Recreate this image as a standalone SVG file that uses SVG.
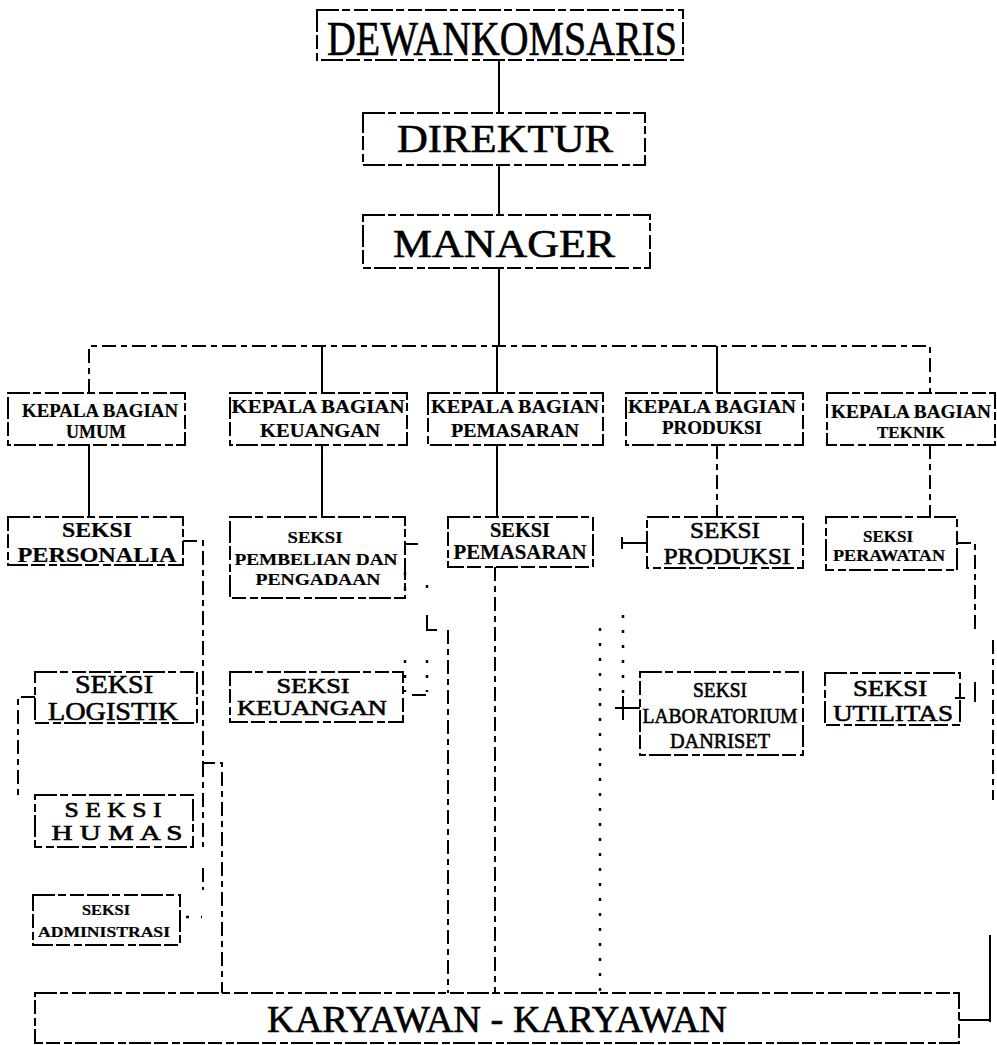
<svg xmlns="http://www.w3.org/2000/svg" width="997" height="1045" viewBox="0 0 997 1045">
<style>
.bx{fill:none;stroke:#000;stroke-width:2;stroke-dasharray:22 3 8 4 14 3}
.s{fill:none;stroke:#000;stroke-width:2}
.d{fill:none;stroke:#000;stroke-width:2;stroke-dasharray:14 5 6 5}
.t{fill:none;stroke:#000;stroke-width:2.5;stroke-dasharray:3 12}
text{font-family:"Liberation Serif","Times New Roman",serif;fill:#000;text-anchor:middle;stroke:#000;stroke-width:0.6}
.b{font-weight:bold;stroke-width:0.2}
</style>
<rect width="997" height="1045" fill="#fff"/>
<g id="connectors">
<path class="s" d="M499 60V113M499 165V215M499 268V346"/>
<path class="d" d="M89 393V346H930V393"/>
<path class="s" d="M322 346V393M497 346V393M717 346V393"/>
<path class="s" d="M89 445V517M322 445V517M497 445V517"/>
<path class="d" d="M717 445V517M930 445V517"/>
<path class="d" d="M183 541H203V763H222V993"/>
<path class="d" d="M203 763V847M203 868V890"/>
<path class="t" d="M186 917H202"/>
<path class="d" d="M35 697H18V800"/>
<path class="s" d="M405 544H418"/>
<path class="t" d="M405 572V600M427 585V600M405 660V692M427 660V692"/>
<path class="s" d="M427 615V630H437M412 695H426"/>
<path class="d" d="M448 630V993"/>
<path class="d" d="M495 567V993"/>
<path class="s" d="M622 537V549M622 543H647"/>
<path class="t" d="M600 628V993"/>
<path class="t" d="M623 615V700"/>
<path class="s" d="M623 696V720M615 708H640"/>
<path class="d" d="M957 543H975V633"/>
<path class="d" d="M993 640V800"/>
<path class="s" d="M955 698H965M975 682V702"/>
<path class="s" d="M990 935V1022M959 1020H990"/>
</g>
<g id="dewan-komisaris"><rect class="bx" x="317" y="10" width="366" height="50"/><text x="502" y="55" font-size="48" textLength="350" lengthAdjust="spacingAndGlyphs" stroke-width="1">DEWANKOMSARIS</text></g>
<g id="direktur"><rect class="bx" x="363" y="113" width="282" height="52"/><text x="505" y="152" font-size="40" textLength="216" lengthAdjust="spacingAndGlyphs">DIREKTUR</text></g>
<g id="manager"><rect class="bx" x="363" y="215" width="287" height="53"/><text x="504" y="257" font-size="40" textLength="222" lengthAdjust="spacingAndGlyphs">MANAGER</text></g>
<g id="kb-umum"><rect class="bx" x="8" y="393" width="177" height="52"/><text class="b" x="100" y="417" font-size="18" textLength="156" lengthAdjust="spacingAndGlyphs">KEPALA BAGIAN</text><text class="b" x="96" y="438" font-size="18">UMUM</text></g>
<g id="kb-keuangan"><rect class="bx" x="230" y="393" width="177" height="52"/><text class="b" x="318" y="413" font-size="19" textLength="173" lengthAdjust="spacingAndGlyphs">KEPALA BAGIAN</text><text class="b" x="320" y="437" font-size="19" textLength="120" lengthAdjust="spacingAndGlyphs">KEUANGAN</text></g>
<g id="kb-pemasaran"><rect class="bx" x="428" y="393" width="175" height="52"/><text class="b" x="515" y="413" font-size="19" textLength="168" lengthAdjust="spacingAndGlyphs">KEPALA BAGIAN</text><text class="b" x="515" y="437" font-size="19" textLength="128" lengthAdjust="spacingAndGlyphs">PEMASARAN</text></g>
<g id="kb-produksi"><rect class="bx" x="626" y="393" width="177" height="52"/><text class="b" x="712" y="413" font-size="19" textLength="168" lengthAdjust="spacingAndGlyphs">KEPALA BAGIAN</text><text class="b" x="712" y="434" font-size="18" textLength="100" lengthAdjust="spacingAndGlyphs">PRODUKSI</text></g>
<g id="kb-teknik"><rect class="bx" x="827" y="393" width="168" height="52"/><text class="b" x="911" y="418" font-size="18" textLength="160" lengthAdjust="spacingAndGlyphs">KEPALA BAGIAN</text><text class="b" x="911" y="438" font-size="17">TEKNIK</text></g>
<g id="seksi-personalia"><rect class="bx" x="8" y="517" width="175" height="48"/><text class="b" x="97" y="537" font-size="20" textLength="70" lengthAdjust="spacingAndGlyphs">SEKSI</text><text class="b" x="97" y="562" font-size="22" textLength="159" lengthAdjust="spacingAndGlyphs">PERSONALIA</text></g>
<g id="seksi-pembelian"><rect class="bx" x="230" y="517" width="175" height="81"/><text class="b" x="315" y="543" font-size="16" textLength="55" lengthAdjust="spacingAndGlyphs">SEKSI</text><text class="b" x="316" y="565" font-size="16" textLength="163" lengthAdjust="spacingAndGlyphs">PEMBELIAN DAN</text><text class="b" x="318" y="585" font-size="16" textLength="125" lengthAdjust="spacingAndGlyphs">PENGADAAN</text></g>
<g id="seksi-pemasaran"><rect class="bx" x="448" y="517" width="145" height="50"/><text class="b" x="520" y="537" font-size="20" textLength="60" lengthAdjust="spacingAndGlyphs">SEKSI</text><text class="b" x="520" y="559" font-size="20" textLength="133" lengthAdjust="spacingAndGlyphs">PEMASARAN</text></g>
<g id="seksi-produksi"><rect class="bx" x="647" y="517" width="156" height="51"/><text x="725" y="538" font-size="24" textLength="70" lengthAdjust="spacingAndGlyphs">SEKSI</text><text x="727" y="564" font-size="23" textLength="127" lengthAdjust="spacingAndGlyphs">PRODUKSI</text></g>
<g id="seksi-perawatan"><rect class="bx" x="826" y="517" width="131" height="53"/><text class="b" x="888" y="542" font-size="16" textLength="50" lengthAdjust="spacingAndGlyphs">SEKSI</text><text class="b" x="889" y="561" font-size="16" textLength="112" lengthAdjust="spacingAndGlyphs">PERAWATAN</text></g>
<g id="seksi-logistik"><rect class="bx" x="35" y="672" width="162" height="51"/><text x="114" y="693" font-size="25" textLength="78" lengthAdjust="spacingAndGlyphs">SEKSI</text><text x="113" y="720" font-size="25" textLength="130" lengthAdjust="spacingAndGlyphs">LOGISTIK</text></g>
<g id="seksi-keuangan"><rect class="bx" x="230" y="672" width="173" height="50"/><text x="313" y="693" font-size="20" textLength="73" lengthAdjust="spacingAndGlyphs">SEKSI</text><text x="312" y="715" font-size="20" textLength="150" lengthAdjust="spacingAndGlyphs">KEUANGAN</text></g>
<g id="seksi-lab"><rect class="bx" x="640" y="672" width="163" height="83"/><text x="720" y="697" font-size="21" textLength="54" lengthAdjust="spacingAndGlyphs">SEKSI</text><text x="720" y="723" font-size="22" textLength="155" lengthAdjust="spacingAndGlyphs">LABORATORIUM</text><text x="720" y="748" font-size="22" textLength="100" lengthAdjust="spacingAndGlyphs">DANRISET</text></g>
<g id="seksi-utilitas"><rect class="bx" x="825" y="673" width="135" height="52"/><text x="890" y="696" font-size="23" textLength="74" lengthAdjust="spacingAndGlyphs">SEKSI</text><text x="893" y="721" font-size="24" textLength="120" lengthAdjust="spacingAndGlyphs">UTILITAS</text></g>
<g id="seksi-humas"><rect class="bx" x="35" y="795" width="158" height="52"/><text x="113" y="817" font-size="21" textLength="97" lengthAdjust="spacingAndGlyphs">S E K S I</text><text x="117" y="840" font-size="21" textLength="131" lengthAdjust="spacingAndGlyphs">H U M A S</text></g>
<g id="seksi-administrasi"><rect class="bx" x="33" y="895" width="147" height="50"/><text class="b" x="106" y="915" font-size="14" textLength="48" lengthAdjust="spacingAndGlyphs">SEKSI</text><text class="b" x="104" y="937" font-size="14" textLength="132" lengthAdjust="spacingAndGlyphs">ADMINISTRASI</text></g>
<g id="karyawan"><rect class="bx" x="35" y="993" width="924" height="50"/><text x="497" y="1032" font-size="38" textLength="460" lengthAdjust="spacingAndGlyphs">KARYAWAN - KARYAWAN</text></g>
</svg>
